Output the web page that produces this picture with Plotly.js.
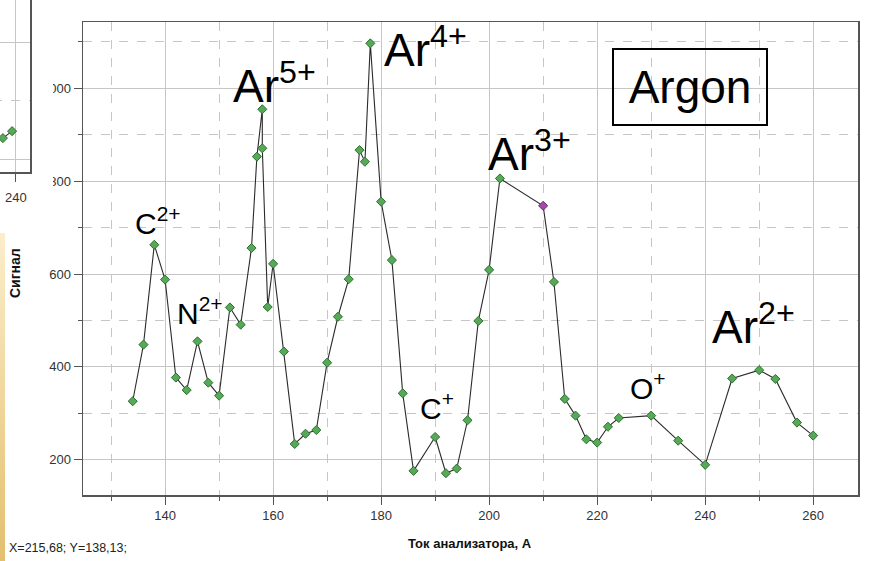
<!DOCTYPE html>
<html>
<head>
<meta charset="utf-8">
<script src="https://cdn.plot.ly/plotly-3.0.1.min.js"></script>
<style>
  html, body { margin: 0; padding: 0; background: #fff; }
  #wrap { position: relative; width: 879px; height: 561px; overflow: hidden; }
  #chart { position: absolute; left: 0; top: 0; width: 879px; height: 561px; }
  #side { position: absolute; left: 0; top: 0; width: 53px; height: 212px; overflow: hidden; background: #fff; }
  #prev { position: absolute; left: -247px; top: -100px; width: 300px; height: 340px; }
  #band { position: absolute; left: 0; top: 233px; width: 5px; height: 328px;
          background: linear-gradient(#fbeecb, #e4bf6e); }
</style>
</head>
<body>
<div id="wrap">
  <div id="chart"></div>
  <div id="side"><div id="prev"></div></div>
  <div id="band"></div>
</div>
<script>
// Analyzer current (A) and detector signal for the argon spectrum
const current = [134, 136, 138, 140, 142, 144, 146, 148, 150, 152,
                 154, 156, 157, 158, 158, 159, 160, 162, 164, 166,
                 168, 170, 172, 174, 176, 177, 178, 180, 182, 184,
                 186, 190, 192, 194, 196, 198, 200, 202, 210, 212,
                 214, 216, 218, 220, 222, 224, 230, 235, 240, 245,
                 250, 253, 257, 260];
const signal = [326, 448, 663, 588, 377, 350, 455, 366, 338, 528,
                491, 656, 853, 955, 871, 529, 622, 433, 234, 256,
                264, 409, 508, 589, 867, 842, 1097, 756, 630, 343,
                176, 249, 171, 181, 285, 499, 609, 806, 747, 583,
                331, 295, 244, 237, 271, 290, 295, 241, 189, 375,
                393, 374, 280, 252];
const selectedCurrent = 210;

// Neighbouring panel (only its right edge is visible)
const prevCurrent = [237.6, 239.3];
const prevSignal = [436, 448];

// Peak labels
const ionLabels = ['C<sup>2+</sup>', 'N<sup>2+</sup>', 'Ar<sup>5+</sup>', 'Ar<sup>4+</sup>',
                   'C<sup>+</sup>', 'Ar<sup>3+</sup>', 'O<sup>+</sup>', 'Ar<sup>2+</sup>'];
const gasName = 'Argon';
const xTitle = 'Ток анализатора, А';
const yTitle = 'Сигнал';
const cursorText = 'X=215,68; Y=138,13;';

const FRAME = '#555555';
const GRID = '#c6c6c6';
const TICKFONT = { family: 'Liberation Sans, Arial, sans-serif', size: 13, color: '#333333' };
const LABELFONT = 'Liberation Sans, Arial, sans-serif';

// plot-area pixel helpers for annotation placement
const L = 83, T = 22, W = 775, H = 473;
const PX = x => (x - L) / W;
const PY = y => (T + H - y) / H;

const markerFill = current.map(c => c === selectedCurrent ? '#a24aa6' : '#55a957');
const markerEdge = current.map(c => c === selectedCurrent ? '#6d2a70' : '#2f6f31');

const trace = {
  x: current, y: signal, type: 'scatter', mode: 'lines+markers',
  line: { color: '#2b2b2b', width: 1.1 },
  marker: { symbol: 'diamond', size: 7, color: markerFill, line: { color: markerEdge, width: 1 } },
  hoverinfo: 'x+y'
};

function axisStyle(extra) {
  return Object.assign({
    ticks: 'outside', ticklen: 8, tickwidth: 1, tickcolor: FRAME,
    showgrid: true, gridcolor: GRID, gridwidth: 1, zeroline: false,
    showline: true, linecolor: FRAME, linewidth: 1.5, mirror: true,
    tickfont: TICKFONT
  }, extra);
}

function minorStyle(step, withTicks) {
  const m = { dtick: step, showgrid: true, gridcolor: GRID, griddash: 'dash', gridwidth: 1 };
  if (withTicks) Object.assign(m, { ticks: 'outside', ticklen: 4, tickcolor: FRAME });
  return m;
}

const big = { family: LABELFONT, size: 46, color: '#000' };
const small = { family: LABELFONT, size: 30, color: '#000' };

function ion(text, left, bottom, font) {
  return { text: text, xref: 'paper', yref: 'paper', x: PX(left), y: PY(bottom),
           xanchor: 'left', yanchor: 'bottom', showarrow: false, font: font, borderpad: 0 };
}

const annotations = [
  ion(ionLabels[0], 134, 241, small),
  ion(ionLabels[1], 176, 331, small),
  ion(ionLabels[2], 232, 113, big),
  ion(ionLabels[3], 383, 77, big),
  ion(ionLabels[4], 419, 426, small),
  ion(ionLabels[5], 487, 181, big),
  ion(ionLabels[6], 629, 406, small),
  ion(ionLabels[7], 711, 354, big),
  { text: gasName, xref: 'paper', yref: 'paper', x: PX(690), y: PY(87),
    xanchor: 'center', yanchor: 'middle', showarrow: false, font: big,
    width: 150, height: 72, borderpad: 1, bordercolor: '#000', borderwidth: 2 },
  { text: '<b>' + xTitle + '</b>', xref: 'paper', yref: 'paper', x: PX(470), y: PY(543),
    xanchor: 'center', yanchor: 'middle', showarrow: false,
    font: { family: LABELFONT, size: 13, color: '#111' } },
  { text: '<b>' + yTitle + '</b>', xref: 'paper', yref: 'paper', x: PX(15), y: PY(273),
    xanchor: 'center', yanchor: 'middle', showarrow: false, textangle: -90,
    font: { family: LABELFONT, size: 14, color: '#111' } },
  { text: cursorText, xref: 'paper', yref: 'paper', x: PX(7), y: PY(548),
    xanchor: 'left', yanchor: 'middle', showarrow: false,
    font: { family: LABELFONT, size: 12.5, color: '#222' } }
];

const layout = {
  width: 879, height: 561,
  margin: { l: L, r: 879 - L - W, t: T, b: 561 - T - H },
  paper_bgcolor: 'rgba(0,0,0,0)', plot_bgcolor: '#fff', showlegend: false,
  xaxis: axisStyle({ range: [124.8, 268.3], tick0: 0, dtick: 20, minor: minorStyle(10, true) }),
  yaxis: axisStyle({ range: [124, 1143], tick0: 0, dtick: 200, minor: minorStyle(100, true) }),
  annotations: annotations
};

Plotly.newPlot('chart', [trace], layout, { staticPlot: true });

// Right edge of the neighbouring panel
const prevTrace = {
  x: prevCurrent, y: prevSignal, type: 'scatter', mode: 'lines+markers',
  line: { color: '#2b2b2b', width: 1.1 },
  marker: { symbol: 'diamond', size: 7, color: '#55a957', line: { color: '#2f6f31', width: 1 } },
  cliponaxis: true
};
const prevLayout = {
  width: 300, height: 340,
  margin: { l: 60, r: 23, t: 50, b: 68 },
  paper_bgcolor: '#fff', plot_bgcolor: '#fff', showlegend: false,
  xaxis: axisStyle({ range: [202.6, 242.6], tick0: 0, dtick: 20, ticklabelstandoff: 5,
                     minor: minorStyle(10, true) }),
  yaxis: axisStyle({ range: [377.6, 760], tick0: 0, dtick: 200, ticks: '', showticklabels: false,
                     minor: minorStyle(100, false) })
};
Plotly.newPlot('prev', [prevTrace], prevLayout, { staticPlot: true });
</script>
</body>
</html>
